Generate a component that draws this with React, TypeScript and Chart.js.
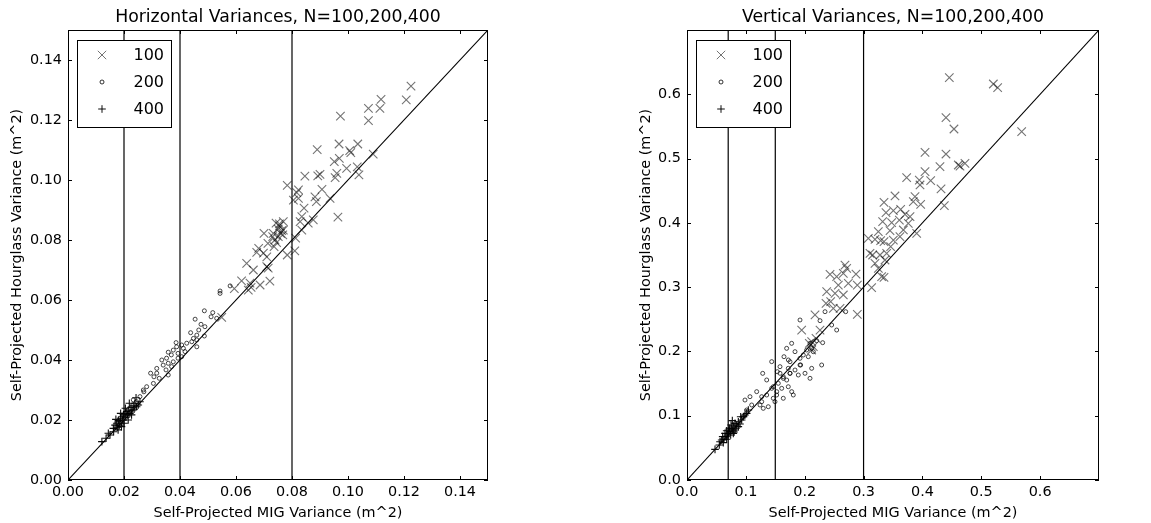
import React, { useEffect, useRef } from 'react';
import { Chart, registerables } from 'chart.js';

Chart.register(...registerables);

// ---------------- Horizontal panel data ----------------
const horizN100: [number, number][] = [
  [0.1225, 0.1313], [0.1208, 0.1267], [0.1118, 0.1269], [0.1114, 0.1239], [0.1073, 0.1239],
  [0.1073, 0.1198], [0.0973, 0.1213], [0.0968, 0.112], [0.1035, 0.112], [0.089, 0.1101],
  [0.1006, 0.1098], [0.101, 0.1091], [0.109, 0.1086], [0.0951, 0.1061], [0.0969, 0.1072],
  [0.0995, 0.1039], [0.1033, 0.1044], [0.1039, 0.1017], [0.0954, 0.1008], [0.096, 0.1022],
  [0.0846, 0.1013], [0.0892, 0.1014], [0.09, 0.1019], [0.0907, 0.0969], [0.0783, 0.0982],
  [0.0817, 0.0958], [0.0823, 0.0967], [0.0805, 0.0933], [0.0823, 0.0939], [0.0882, 0.0944],
  [0.0887, 0.0928], [0.0936, 0.0939], [0.0843, 0.0906], [0.0964, 0.0876], [0.0835, 0.0878],
  [0.0829, 0.0861], [0.0858, 0.0856], [0.0876, 0.0867], [0.0835, 0.0833], [0.0813, 0.0806],
  [0.0755, 0.0847], [0.0743, 0.0856], [0.0769, 0.0861], [0.0763, 0.0831], [0.0733, 0.0822],
  [0.0751, 0.0811], [0.0767, 0.0817], [0.07, 0.0822], [0.0714, 0.0789], [0.0745, 0.0791],
  [0.0681, 0.0772], [0.0674, 0.0759], [0.0698, 0.0756], [0.071, 0.0744], [0.0736, 0.0778],
  [0.0783, 0.075], [0.081, 0.0764], [0.0638, 0.0722], [0.0662, 0.07], [0.071, 0.0711],
  [0.0715, 0.0706], [0.0686, 0.065], [0.0721, 0.0663], [0.062, 0.0664], [0.065, 0.0656],
  [0.0644, 0.0633], [0.0654, 0.0642], [0.0594, 0.0638], [0.0549, 0.0542], [0.0751, 0.0836],
  [0.0759, 0.0822], [0.0755, 0.0854], [0.0769, 0.0833], [0.0731, 0.0811], [0.0739, 0.08],
];
const horizN200: [number, number][] = [
  [0.0543, 0.063], [0.0543, 0.0622], [0.0579, 0.0647], [0.0517, 0.0558], [0.0487, 0.0564],
  [0.0454, 0.0536], [0.0511, 0.0544], [0.0531, 0.0539], [0.0475, 0.0519], [0.0489, 0.0511],
  [0.0467, 0.05], [0.0438, 0.0491], [0.046, 0.0483], [0.0487, 0.048], [0.046, 0.0467],
  [0.0442, 0.0461], [0.0424, 0.0456], [0.046, 0.0444], [0.0386, 0.0458], [0.0388, 0.0444],
  [0.0406, 0.045], [0.0376, 0.0433], [0.0358, 0.0426], [0.0412, 0.0439], [0.0418, 0.0428],
  [0.0369, 0.0417], [0.0352, 0.0406], [0.0335, 0.04], [0.0393, 0.0422], [0.0358, 0.0389],
  [0.034, 0.0383], [0.0376, 0.0394], [0.0393, 0.0406], [0.035, 0.0367], [0.0358, 0.035],
  [0.0317, 0.0356], [0.0295, 0.0356], [0.0307, 0.0344], [0.0326, 0.0339], [0.0281, 0.0311],
  [0.0269, 0.03], [0.0305, 0.0322], [0.0257, 0.0278], [0.0271, 0.0294], [0.0245, 0.0261],
  [0.0233, 0.0267], [0.037, 0.0378], [0.0448, 0.0472], [0.0317, 0.0372], [0.0406, 0.0411],
];
const horizN400: [number, number][] = [
  [0.0121, 0.0128], [0.0136, 0.0139], [0.0144, 0.0156], [0.015, 0.015], [0.0162, 0.0172],
  [0.0168, 0.0183], [0.0174, 0.0189], [0.0176, 0.0176], [0.018, 0.0198], [0.0186, 0.0194],
  [0.0188, 0.0206], [0.0193, 0.0211], [0.0195, 0.02], [0.0198, 0.0217], [0.02, 0.0189],
  [0.0204, 0.0222], [0.0207, 0.0209], [0.021, 0.0228], [0.0213, 0.0217], [0.0217, 0.0233],
  [0.0221, 0.0222], [0.0225, 0.0242], [0.0229, 0.0231], [0.0233, 0.0247], [0.0236, 0.0236],
  [0.0239, 0.0256], [0.0243, 0.0274], [0.0245, 0.0244], [0.0219, 0.0256], [0.0183, 0.0183],
  [0.0171, 0.0202], [0.0188, 0.0222], [0.0205, 0.0239], [0.0215, 0.02], [0.0227, 0.0217],
  [0.0251, 0.025], [0.0257, 0.0261], [0.0191, 0.0178], [0.0163, 0.0161], [0.0179, 0.0167],
];
const horizRefLines = [0.02, 0.04, 0.08];
const horizTicks = [0, 0.02, 0.04, 0.06, 0.08, 0.1, 0.12, 0.14];
const horizMax = 0.15;

// ---------------- Vertical panel data ----------------
const vertN100: [number, number][] = [
  [0.4457, 0.6258], [0.5205, 0.616], [0.5278, 0.6103], [0.5686, 0.5418], [0.44, 0.5636],
  [0.4536, 0.546], [0.4044, 0.5097], [0.44, 0.5071], [0.4723, 0.4926], [0.461, 0.49],
  [0.4638, 0.4884], [0.4298, 0.4874], [0.3732, 0.4703], [0.414, 0.4656], [0.4316, 0.4527],
  [0.4044, 0.4796], [0.3947, 0.4666], [0.3959, 0.4589], [0.3534, 0.4418], [0.3347, 0.4319],
  [0.3874, 0.4407], [0.3845, 0.433], [0.397, 0.4288], [0.4372, 0.4267], [0.3506, 0.419],
  [0.3381, 0.4158], [0.363, 0.421], [0.3704, 0.4133], [0.3789, 0.4096], [0.3608, 0.4044],
  [0.3477, 0.4003], [0.3324, 0.4018], [0.376, 0.3993], [0.3902, 0.3837], [0.3676, 0.3889],
  [0.3251, 0.3863], [0.3449, 0.3879], [0.3081, 0.3759], [0.3194, 0.3744], [0.329, 0.3723],
  [0.3347, 0.3707], [0.3506, 0.3733], [0.3618, 0.3785], [0.346, 0.363], [0.3109, 0.3526],
  [0.3154, 0.35], [0.3279, 0.35], [0.3392, 0.3526], [0.3194, 0.337], [0.3251, 0.3293],
  [0.3364, 0.3422], [0.3347, 0.3153], [0.3307, 0.3163], [0.3137, 0.2992], [0.2894, 0.2577],
  [0.2894, 0.3033], [0.2871, 0.3204], [0.2684, 0.3344], [0.2713, 0.3293], [0.2656, 0.3215],
  [0.2543, 0.3163], [0.243, 0.3199], [0.2571, 0.3033], [0.2741, 0.3059], [0.2656, 0.2878],
  [0.2515, 0.2904], [0.2373, 0.293], [0.2362, 0.2748], [0.2441, 0.2774], [0.2486, 0.267],
  [0.26, 0.267], [0.2175, 0.2567], [0.2118, 0.2152], [0.2146, 0.2074], [0.2118, 0.2022],
  [0.2192, 0.2204], [0.1948, 0.2333], [0.226, 0.2333], [0.2078, 0.2126],
];
const vertN200: [number, number][] = [
  [0.226, 0.2478], [0.2288, 0.1789], [0.2203, 0.2167], [0.2305, 0.2136], [0.2458, 0.2411],
  [0.2543, 0.2333], [0.2696, 0.2618], [0.209, 0.2126], [0.2118, 0.2048], [0.2146, 0.1996],
  [0.2033, 0.2022], [0.1976, 0.1944], [0.2061, 0.1918], [0.192, 0.1893], [0.2118, 0.1737],
  [0.209, 0.1582], [0.2005, 0.166], [0.192, 0.1789], [0.175, 0.184], [0.1835, 0.1711],
  [0.1891, 0.1633], [0.175, 0.166], [0.1694, 0.1555], [0.1636, 0.1607], [0.1806, 0.1322],
  [0.1779, 0.1374], [0.1721, 0.1451], [0.158, 0.166], [0.1551, 0.1504], [0.1609, 0.1426],
  [0.1524, 0.1374], [0.1439, 0.1426], [0.1636, 0.1271], [0.1466, 0.1271], [0.1354, 0.1322],
  [0.1495, 0.1218], [0.1269, 0.1218], [0.1381, 0.114], [0.1296, 0.1115], [0.124, 0.1167],
  [0.1534, 0.1685], [0.1721, 0.1737], [0.192, 0.2489], [0.1931, 0.1789], [0.1286, 0.1659],
  [0.1439, 0.1841], [0.1354, 0.1556], [0.1467, 0.1452], [0.1523, 0.1322], [0.0985, 0.1244],
  [0.1099, 0.1167], [0.1184, 0.1374], [0.1269, 0.1296], [0.107, 0.1296], [0.1014, 0.1089],
  [0.0957, 0.0985], [0.1778, 0.2126], [0.1693, 0.2048], [0.1835, 0.1996], [0.1648, 0.1918],
  [0.175, 0.1659], [0.1637, 0.1581], [0.1722, 0.1867], [0.158, 0.1763], [0.2345, 0.2618],
];
const vertN400: [number, number][] = [
  [0.0476, 0.0477], [0.0561, 0.0596], [0.0589, 0.0622], [0.0629, 0.0633], [0.0663, 0.0674],
  [0.0702, 0.0726], [0.0674, 0.0767], [0.0731, 0.0752], [0.0759, 0.0804], [0.0776, 0.0778],
  [0.0787, 0.084], [0.0719, 0.0804], [0.0691, 0.07], [0.0742, 0.07], [0.0799, 0.0747],
  [0.0816, 0.0881], [0.0844, 0.0856], [0.0872, 0.0907], [0.09, 0.0871], [0.0929, 0.0933],
  [0.0957, 0.0985], [0.0985, 0.1011], [0.1014, 0.1037], [0.0617, 0.0581], [0.0549, 0.0544],
  [0.0646, 0.0726], [0.0748, 0.0856], [0.0714, 0.0778], [0.0787, 0.0726], [0.0833, 0.0804],
  [0.0872, 0.083], [0.0674, 0.0633], [0.0606, 0.0674], [0.077, 0.0923], [0.0912, 0.0985],
  [0.1042, 0.1089], [0.0816, 0.0778],
];
const vertRefLines = [0.07, 0.15, 0.3];
const vertTicks = [0, 0.1, 0.2, 0.3, 0.4, 0.5, 0.6];
const vertMax = 0.7;

const seriesLabels = ['100', '200', '400'];
const FONT = '"DejaVu Sans", sans-serif';

type Panel = {
  title: string;
  n100: [number, number][];
  n200: [number, number][];
  n400: [number, number][];
  refLines: number[];
  ticks: number[];
  max: number;
  decimals: number;
  yAxisWidth: number;
  rightPad: number;
  yTitlePad: number;
};

const COL100 = 'rgba(0,0,0,0.55)';
const COL200 = 'rgba(0,0,0,0.8)';
const COL400 = 'rgba(0,0,0,0.95)';

function drawMarker(ctx: CanvasRenderingContext2D, kind: number, x: number, y: number) {
  ctx.beginPath();
  if (kind === 0) {
    const d = 4.2;
    ctx.strokeStyle = COL100;
    ctx.moveTo(x - d, y - d); ctx.lineTo(x + d, y + d);
    ctx.moveTo(x - d, y + d); ctx.lineTo(x + d, y - d);
  } else if (kind === 1) {
    ctx.strokeStyle = COL200;
    ctx.arc(x, y, 2, 0, Math.PI * 2);
  } else {
    const d = 3.8;
    ctx.strokeStyle = COL400;
    ctx.moveTo(x - d, y); ctx.lineTo(x + d, y);
    ctx.moveTo(x, y - d); ctx.lineTo(x, y + d);
  }
  ctx.lineWidth = 1;
  ctx.stroke();
}

const decorPlugin = {
  id: 'decor',
  afterDraw(chart: any, _args: any, opts: any) {
    const { ctx, chartArea: a, scales } = chart;
    ctx.save();
    ctx.strokeStyle = '#000';
    ctx.lineWidth = 1;
    ctx.strokeRect(Math.round(a.left) + 0.5, Math.round(a.top) + 0.5, Math.round(a.right - a.left) - 1, Math.round(a.bottom - a.top) - 1);
    const tl = 4;
    ctx.beginPath();
    for (const v of opts.ticks as number[]) {
      const px = Math.round(scales.x.getPixelForValue(v)) + 0.5;
      ctx.moveTo(px, a.bottom); ctx.lineTo(px, a.bottom - tl);
      ctx.moveTo(px, a.top); ctx.lineTo(px, a.top + tl);
      const py = Math.round(scales.y.getPixelForValue(v)) + 0.5;
      ctx.moveTo(a.left, py); ctx.lineTo(a.left + tl, py);
      ctx.moveTo(a.right, py); ctx.lineTo(a.right - tl, py);
    }
    ctx.stroke();
    ctx.fillStyle = '#000';
    ctx.font = `17.3px ${FONT}`;
    ctx.textAlign = 'center';
    ctx.textBaseline = 'middle';
    ctx.fillText(opts.title, (a.left + a.right) / 2, 18);
    const bx = a.left + 9, by = a.top + 10, bw = 94, bh = 87;
    ctx.fillStyle = '#fff';
    ctx.fillRect(bx, by, bw, bh);
    ctx.strokeStyle = '#000';
    ctx.lineWidth = 1;
    ctx.strokeRect(Math.round(bx) + 0.5, Math.round(by) + 0.5, bw, bh);
    ctx.font = `16px ${FONT}`;
    ctx.textAlign = 'right';
    ctx.textBaseline = 'middle';
    (opts.labels as string[]).forEach((lab, i) => {
      const ly = a.top + 25 + i * 27;
      drawMarker(ctx, i, a.left + 34, ly);
      ctx.fillStyle = '#000';
      ctx.fillText(lab, a.left + 96, ly + 1);
    });
    ctx.restore();
  },
};

function makeConfig(p: Panel): any {
  const toPts = (arr: [number, number][]) => arr.map(([x, y]) => ({ x, y }));
  const lineDs = (pts: { x: number; y: number }[]) => ({
    type: 'scatter',
    data: pts,
    showLine: true,
    borderColor: '#000',
    borderWidth: 1.2,
    pointRadius: 0,
    fill: false,
  });
  const datasets: any[] = [
    ...p.refLines.map((v) => lineDs([{ x: v, y: 0 }, { x: v, y: p.max }])),
    { ...lineDs([{ x: 0, y: 0 }, { x: p.max, y: p.max }]), borderWidth: 1.1 },
    {
      label: seriesLabels[0], data: toPts(p.n100), pointStyle: 'crossRot', pointRadius: 6,
      borderColor: COL100, backgroundColor: COL100, borderWidth: 1.1,
    },
    {
      label: seriesLabels[1], data: toPts(p.n200), pointStyle: 'circle', pointRadius: 2,
      borderColor: COL200, backgroundColor: 'rgba(0,0,0,0)', borderWidth: 0.9,
    },
    {
      label: seriesLabels[2], data: toPts(p.n400), pointStyle: 'cross', pointRadius: 3.8,
      borderColor: COL400, backgroundColor: COL400, borderWidth: 1.1,
    },
  ];
  const setTicks = (scale: any) => {
    scale.ticks = p.ticks.map((v) => ({ value: v }));
  };
  const tickFont = { family: FONT, size: 14.4 };
  return {
    type: 'scatter',
    data: { datasets },
    options: {
      animation: false,
      responsive: false,
      events: [],
      layout: { padding: { top: 30, right: p.rightPad, left: 0, bottom: 0 } },
      plugins: {
        legend: { display: false },
        tooltip: { enabled: false },
        decor: { title: p.title, ticks: p.ticks, labels: seriesLabels },
      },
      scales: {
        x: {
          type: 'linear', min: 0, max: p.max,
          grid: { display: false, drawTicks: false },
          border: { display: false },
          afterBuildTicks: setTicks,
          afterFit: (s: any) => { s.height = 43; },
          ticks: {
            color: '#000', font: tickFont, padding: 3.4, maxRotation: 0, autoSkip: false,
            callback: (v: any) => Number(v).toFixed(p.decimals),
          },
          title: {
            display: true, text: 'Self-Projected MIG Variance (m^2)', color: '#000',
            font: { family: FONT, size: 14.4 }, padding: { top: 0, bottom: 1.4 },
          },
        },
        y: {
          type: 'linear', min: 0, max: p.max,
          grid: { display: false, drawTicks: false },
          border: { display: false },
          afterBuildTicks: setTicks,
          afterFit: (s: any) => { s.width = p.yAxisWidth; },
          ticks: {
            color: '#000', font: tickFont, padding: 6, autoSkip: false,
            callback: (v: any) => Number(v).toFixed(p.decimals),
          },
          title: {
            display: true, text: 'Self-Projected Hourglass Variance (m^2)', color: '#000',
            font: { family: FONT, size: 14.4 }, padding: { top: p.yTitlePad, bottom: 0 },
          },
        },
      },
    },
    plugins: [decorPlugin],
  };
}

const horizPanel: Panel = {
  title: 'Horizontal Variances, N=100,200,400',
  n100: horizN100, n200: horizN200, n400: horizN400,
  refLines: horizRefLines, ticks: horizTicks, max: horizMax, decimals: 2,
  yAxisWidth: 68, rightPad: 72, yTitlePad: 8.9,
};
const vertPanel: Panel = {
  title: 'Vertical Variances, N=100,200,400',
  n100: vertN100, n200: vertN200, n400: vertN400,
  refLines: vertRefLines, ticks: vertTicks, max: vertMax, decimals: 1,
  yAxisWidth: 107, rightPad: 52, yTitlePad: 57.4,
};

function PanelChart({ panel, left, width }: { panel: Panel; left: number; width: number }) {
  const ref = useRef<HTMLCanvasElement | null>(null);
  useEffect(() => {
    if (!ref.current) return;
    const chart = new Chart(ref.current, makeConfig(panel));
    return () => chart.destroy();
  }, [panel]);
  return (
    <canvas
      ref={ref}
      width={width}
      height={523}
      style={{ position: 'absolute', left, top: 0, width, height: 523 }}
    />
  );
}

export default function App() {
  return (
    <div style={{ position: 'absolute', left: 0, top: 0, width: 1151, height: 523, background: '#fff' }}>
      <PanelChart panel={horizPanel} left={0} width={560} />
      <PanelChart panel={vertPanel} left={580} width={571} />
    </div>
  );
}
